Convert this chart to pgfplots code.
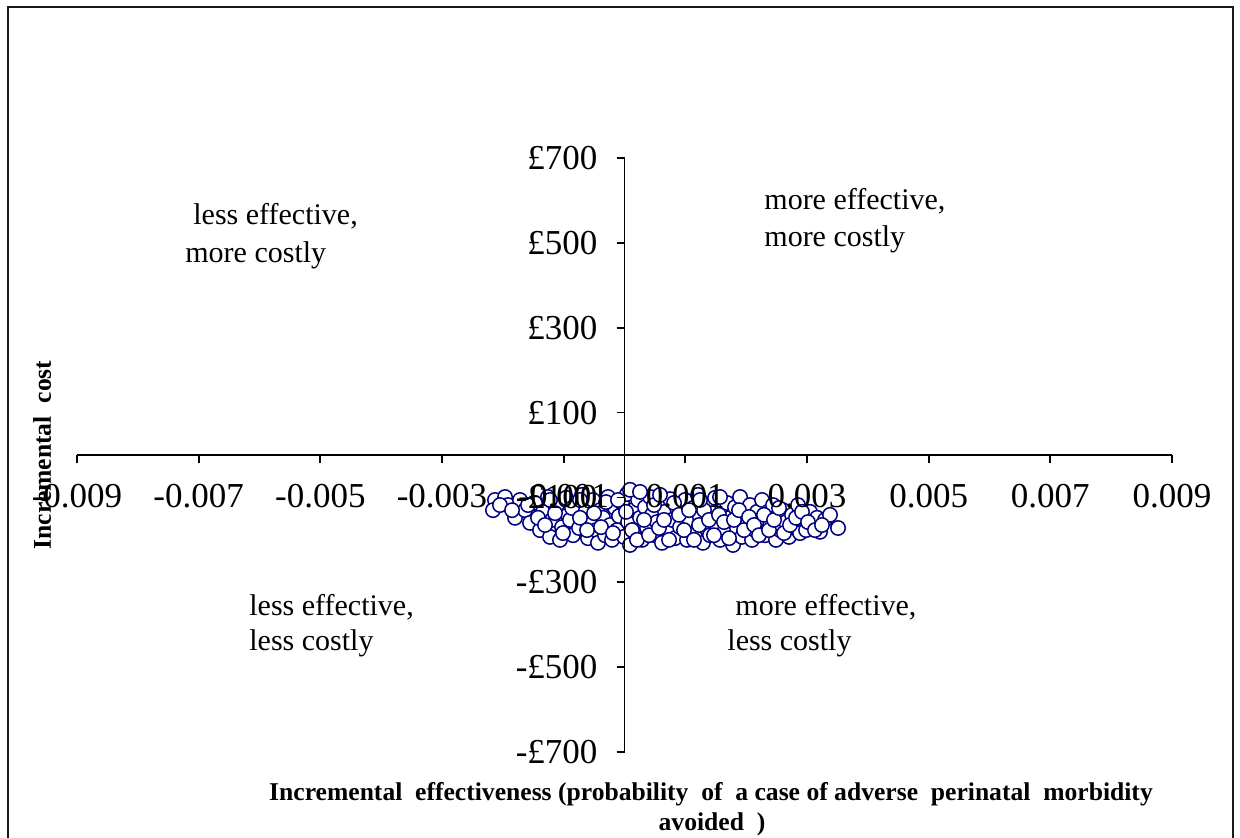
\documentclass[border=0pt]{standalone}
\usepackage{pgfplots}
\pgfplotsset{compat=1.18}
\usepackage{fontspec}
\setmainfont{Liberation Serif}
\definecolor{ptblue}{RGB}{0,0,128}
\definecolor{framegray}{RGB}{25,25,25}

% Simulated incremental effectiveness / incremental cost pairs
\pgfplotstableread{
x y
-0.002129 -106
-0.002162 -130
-0.001964 -99
-0.001915 -118
-0.001800 -148
-0.001718 -106
-0.001636 -130
-0.001553 -160
-0.001471 -113
-0.001389 -177
-0.001340 -134
-0.001258 -99
-0.001225 -193
-0.001192 -153
-0.001110 -118
-0.001060 -200
-0.001027 -170
-0.000962 -101
-0.000929 -141
-0.000896 -153
-0.000847 -189
-0.000797 -118
-0.000748 -172
-0.000699 -94
-0.000649 -134
-0.000600 -196
-0.000567 -158
-0.000518 -106
-0.000468 -177
-0.000436 -207
-0.000403 -130
-0.000353 -148
-0.000321 -189
-0.000271 -99
-0.000238 -165
-0.000205 -200
-0.000156 -125
-0.000123 -177
-0.000090 -144
-0.000041 -113
-0.000008 -193
0.000041 -92
0.000058 -158
0.000090 -212
0.000140 -130
0.000173 -177
0.000222 -106
0.000255 -148
0.000288 -200
0.000337 -123
0.000370 -172
0.000419 -99
0.000452 -141
0.000501 -189
0.000534 -158
0.000584 -113
0.000616 -207
0.000666 -134
0.000699 -177
0.000748 -104
0.000781 -153
0.000830 -196
0.000863 -125
0.000912 -170
0.000945 -141
0.000995 -106
0.001027 -200
0.001077 -158
0.001126 -125
0.001159 -184
0.001208 -94
0.001241 -148
0.001290 -207
0.001323 -170
0.001373 -118
0.001405 -189
0.001438 -137
0.001488 -101
0.001521 -165
0.001570 -200
0.001603 -130
0.001652 -177
0.001685 -113
0.001734 -148
0.001784 -212
0.001816 -123
0.001849 -172
0.001899 -99
0.001931 -193
0.001981 -141
0.002030 -160
0.002063 -118
0.002096 -200
0.002145 -177
0.002178 -134
0.002227 -153
0.002260 -106
0.002310 -189
0.002359 -134
0.002392 -165
0.002441 -118
0.002490 -200
0.002523 -148
0.002556 -177
0.002605 -130
0.002655 -158
0.002704 -193
0.002753 -141
0.002803 -172
0.002852 -118
0.002885 -184
0.002934 -153
0.002984 -177
0.003049 -134
0.003099 -165
0.003164 -148
0.003214 -181
0.003296 -153
0.003378 -141
0.003510 -172
-0.002047 -118
-0.001849 -130
-0.001586 -118
-0.001422 -148
-0.001307 -165
-0.001142 -137
-0.001011 -184
-0.000863 -125
-0.000732 -148
-0.000616 -177
-0.000501 -137
-0.000386 -170
-0.000304 -111
-0.000189 -184
-0.000107 -106
0.000025 -134
0.000123 -177
0.000205 -200
0.000321 -153
0.000403 -189
0.000485 -118
0.000567 -172
0.000649 -153
0.000732 -200
0.000814 -113
0.000896 -141
0.000978 -177
0.001060 -130
0.001142 -200
0.001225 -165
0.001307 -130
0.001389 -153
0.001471 -189
0.001553 -141
0.001636 -158
0.001718 -196
0.001800 -153
0.001882 -130
0.001964 -177
0.002047 -146
0.002129 -165
0.002211 -189
0.002293 -141
0.002375 -177
0.002458 -153
0.002540 -125
0.002622 -184
0.002720 -165
0.002819 -148
0.002918 -134
0.003016 -158
0.003131 -177
0.003246 -165
0.000090 -82
0.000255 -87
0.000584 -94
0.001241 -106
0.001570 -99
-0.000732 -106
-0.001225 -106
}\icerdata

\pgfplotsset{
  icerframe/.style={
    at={(312.25pt,191pt)}, anchor=origin, scale only axis,
    width=547.5pt, height=297pt,
    xmin=-0.009, xmax=0.009, ymin=-700, ymax=700,
    clip=false,
  },
}

\begin{document}
\begin{tikzpicture}[x=0.5pt,y=0.5pt]
\useasboundingbox (0,0) rectangle (1240,837);
% chart area frame
\draw[line width=1.3pt,framegray] (8,-10) -- (8,830) -- (1233,830) -- (1233,-10);
% scatter of simulated pairs (drawn first, beneath the axes)
\begin{axis}[icerframe, hide axis]
\addplot[only marks, mark=*, mark size=3.6pt,
  mark options={fill=white, draw=ptblue, line width=0.75pt}]
  table[x=x, y=y] {\icerdata};
\end{axis}
% cross-shaped axes with their tick labels on top
\begin{axis}[icerframe,
  axis lines=middle, axis line style={-, line width=0.9pt, black},
  scaled x ticks=false, scaled y ticks=false,
  xtick={-0.009,-0.007,-0.005,-0.003,-0.001,0.001,0.003,0.005,0.007,0.009},
  xticklabels={-0.009,-0.007,-0.005,-0.003,-0.001,0.001,0.003,0.005,0.007,0.009},
  ytick={-700,-500,-300,-100,100,300,500,700},
  yticklabels={-£700,-£500,-£300,-£100,£100,£300,£500,£700},
  tick align=outside, major tick length=4pt,
  tick style={black, line width=0.9pt},
  ticklabel style={font=\fontsize{17.5}{20}\selectfont},
  x tick label style={yshift=-7pt},
  y tick label style={xshift=-6pt},
]
\end{axis}
% quadrant notes
\begin{scope}[every node/.style={anchor=base west, inner sep=0pt, font=\fontsize{15}{18}\selectfont}]
\node at (193,612) {less effective,};
\node at (185,575) {more costly};
\node at (764,627) {more effective,};
\node at (764,591) {more costly};
\node at (249,222) {less effective,};
\node at (249,187) {less costly};
\node at (735,222) {more effective,};
\node at (727,187) {less costly};
\end{scope}
% axis titles
\node[anchor=base, inner sep=0pt, font=\fontsize{12.8}{15}\selectfont\bfseries]
  at (711,37) {Incremental\ \ effectiveness (probability\ \ of\ \ a case of adverse\ \ perinatal\ \ morbidity};
\node[anchor=base, inner sep=0pt, font=\fontsize{12.8}{15}\selectfont\bfseries]
  at (712,7) {avoided\ \ )};
\node[rotate=90, inner sep=0pt, font=\fontsize{12.8}{15}\selectfont\bfseries]
  at (42,382) {Incremental\ \ cost};
\end{tikzpicture}
\end{document}
